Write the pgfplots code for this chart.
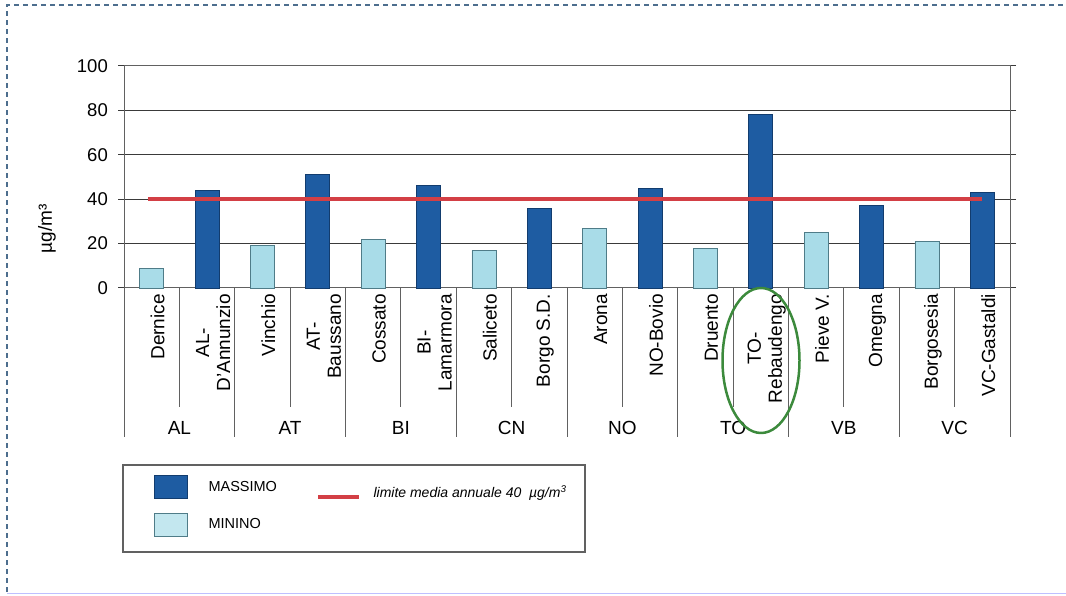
\documentclass[border=0pt]{standalone}
\usepackage{fontspec}
\setmainfont{Liberation Sans}
\usepackage{pgfplots}
\pgfplotsset{compat=1.18}
\definecolor{darkbar}{HTML}{1E5CA2}
\definecolor{darkbaredge}{HTML}{123C6E}
\definecolor{lightbar}{HTML}{A9DCE8}
\definecolor{lightbaredge}{HTML}{4F7C88}
\definecolor{limred}{HTML}{D33F45}
\definecolor{gridc}{HTML}{3A3A3A}
\definecolor{framec}{HTML}{4D6E8E}
\definecolor{ellgreen}{HTML}{3C8A3C}
\begin{document}
\begin{tikzpicture}[x=1pt,y=1pt]
\path[use as bounding box] (0,0) rectangle (1066,596);
\draw[framec, dash pattern=on 5pt off 4pt, line width=1.4pt] (7,4) -- (7,591) -- (1066,591);
\draw[blue!25, line width=1pt] (7,2) -- (1066,2);
\begin{axis}[
  at={(124pt,308pt)}, anchor=south west,
  scale only axis, width=886pt, height=222pt,
  xmin=-0.5, xmax=15.5, ymin=0, ymax=100,
  ytick={0,20,40,60,80,100},
  ymajorgrids, grid style={gridc, line width=1pt},
  axis line style={gridc!80, line width=1pt},
  xtick={0,...,15},
  xticklabels={Dernice,{AL-\\D'Annunzio},Vinchio,{AT-\\Baussano},Cossato,{BI-\\Lamarmora},Saliceto,Borgo S.D.,Arona,NO-Bovio,Druento,{TO-\\Rebaudengo},Pieve V.,Omegna,Borgosesia,VC-Gastaldi},
  major x tick style={draw=none},
  xticklabel style={rotate=90, anchor=east, align=center, font=\fontsize{19}{21}\selectfont, inner sep=0pt, yshift=-6pt},
  y tick style={gridc, line width=1pt},
  tick align=outside, major tick length=6pt,
  /pgf/number format/assume math mode=true,
  yticklabel style={font=\fontsize{18.5}{20}\selectfont, inner sep=0pt, xshift=-10pt},
  clip=false,
]
\addplot[ybar, bar width=24pt, bar shift=0pt, draw=lightbaredge, line width=0.8pt, fill=lightbar]
  coordinates {(0,9) (2,19) (4,22) (6,17) (8,27) (10,18) (12,25) (14,21)};
\addplot[ybar, bar width=24pt, bar shift=0pt, draw=darkbaredge, line width=0.8pt, fill=darkbar]
  coordinates {(1,44) (3,51) (5,46) (7,36) (9,45) (11,78) (13,37) (15,43)};
\addplot[limred, line width=4pt] coordinates {(-0.07,40) (15,40)};
\end{axis}
% category separators
\foreach \k in {0,...,16} {
  \pgfmathsetmacro{\xx}{124+55.375*\k}
  \pgfmathtruncatemacro{\odd}{mod(\k,2)}
  \ifnum\odd=1
    \draw[gridc!80, line width=1pt] (\xx,308) -- (\xx,189);
  \else
    \draw[gridc!80, line width=1pt] (\xx,308) -- (\xx,159);
  \fi
}
\foreach \g/\lab in {0/AL,1/AT,2/BI,3/CN,4/NO,5/TO,6/VB,7/VC} {
  \pgfmathsetmacro{\xx}{124+55.375*(2*\g+1)}
  \node[font=\fontsize{19}{21}\selectfont] at (\xx,168) {\lab};
}
\node[rotate=90, font=\fontsize{19}{20}\selectfont] at (47,367) {µg/m³};
\draw[ellgreen, line width=2.5pt] (761,235.5) ellipse (38.5 and 72.5);
% legend
\draw[gridc!80, line width=1.2pt] (123,44) rectangle (585,131);
\fill[darkbar, draw=darkbaredge, line width=0.8pt] (154,98) rectangle (187,121);
\fill[lightbar!70, draw=lightbaredge, line width=0.8pt] (154,60) rectangle (187,83);
\node[anchor=west, font=\fontsize{14.5}{16}\selectfont] at (205,109) {MASSIMO};
\node[anchor=west, font=\fontsize{14.5}{16}\selectfont] at (205,72) {MININO};
\draw[limred, line width=3.5pt] (318,99) -- (359,99);
\node[anchor=west, font=\fontsize{14}{16}\selectfont\itshape] at (370,103) {limite media annuale 40 \ µg/m\textsuperscript{3}};
\end{tikzpicture}
\end{document}
